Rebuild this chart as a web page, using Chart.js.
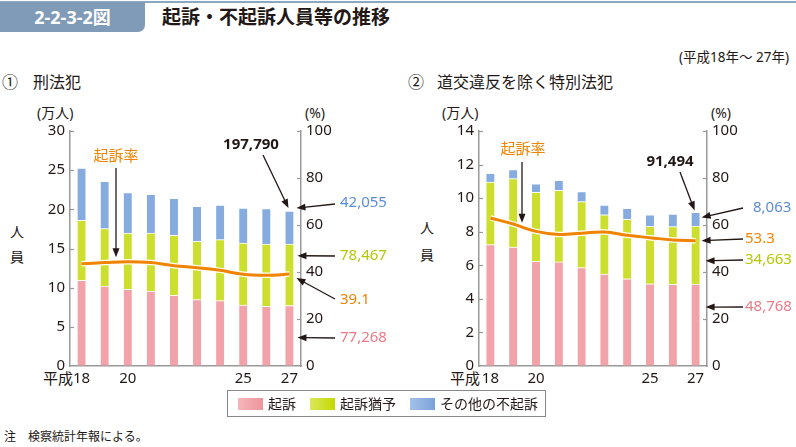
<!DOCTYPE html>
<html>
<head>
<meta charset="utf-8">
<script src="https://cdn.jsdelivr.net/npm/chart.js@4.4.1/dist/chart.umd.min.js"></script>
<style>
  body { margin: 0; width: 796px; height: 447px; position: relative; background: #fff;
         font-family: "Noto Sans", "Noto Sans CJK JP", sans-serif; color: #231815; overflow: hidden; }
  .t { position: absolute; white-space: nowrap; line-height: 1; }
  .wrap { position: absolute; top: 95px; height: 300px; }
  #topline { position: absolute; left: 0; top: 1px; width: 796px; height: 2px; background: #8ea7c0; }
  #badge { position: absolute; left: 0; top: 2px; width: 145px; height: 30px; background: #7f9bb8;
           border-bottom-right-radius: 7px; color: #fff; font-weight: bold; font-size: 18px;
           line-height: 30px; text-align: center; }
  #legend { position: absolute; left: 227px; top: 390px; width: 319px; height: 27px;
            border: 1px solid #888; box-sizing: border-box; }
  .sw { position: absolute; top: 7px; width: 25px; height: 12px; }
  .lt { position: absolute; top: 5px; font-size: 14px; line-height: 16px; }
</style>
</head>
<body>
<div id="topline"></div>
<div id="badge">2-2-3-2図</div>
<div class="t" style="left:162px;top:8px;font-size:19px;font-weight:bold;">起訴・不起訴人員等の推移</div>
<div class="t" style="left:679px;top:51px;font-size:13.5px;">(平成18年～ 27年)</div>

<div class="t" style="left:2px;top:74px;font-size:16px;">①</div>
<div class="t" style="left:33px;top:74px;font-size:16px;">刑法犯</div>
<div class="t" style="left:408px;top:74px;font-size:16px;">②</div>
<div class="t" style="left:437px;top:74px;font-size:16px;">道交違反を除く特別法犯</div>

<div class="t" style="left:37px;top:106px;font-size:14px;">(万人)</div>
<div class="t" style="left:305px;top:106px;font-size:14px;">(%)</div>
<div class="t" style="left:442px;top:106px;font-size:14px;">(万人)</div>
<div class="t" style="left:711px;top:106px;font-size:14px;">(%)</div>

<div class="t" style="left:10px;top:225px;font-size:14px;">人</div>
<div class="t" style="left:10px;top:250px;font-size:14px;">員</div>
<div class="t" style="left:420px;top:221px;font-size:14px;">人</div>
<div class="t" style="left:420px;top:248px;font-size:14px;">員</div>

<div class="t" style="left:43px;top:371px;font-size:15px;">平成</div>
<div class="t" style="left:450px;top:371px;font-size:15px;">平成</div>

<div class="wrap" style="left:0;width:400px;"><canvas id="c1" width="400" height="300"></canvas></div>
<div class="wrap" style="left:400px;width:396px;"><canvas id="c2" width="396" height="300"></canvas></div>

<div id="legend">
  <div class="sw" style="left:10px;background:linear-gradient(90deg,#f6b6bb,#ee939c);"></div>
  <div class="lt" style="left:40px;">起訴</div>
  <div class="sw" style="left:82px;background:linear-gradient(90deg,#dbe85a,#c4d800);"></div>
  <div class="lt" style="left:112px;">起訴猶予</div>
  <div class="sw" style="left:182px;background:linear-gradient(90deg,#a2c0e8,#7aa3db);"></div>
  <div class="lt" style="left:212px;">その他の不起訴</div>
</div>

<div class="t" style="left:4px;top:431px;font-size:12px;">注　検察統計年報による。</div>

<script>
// categories (平成18〜27年)
const years = ['18', '', '20', '', '', '', '', '25', '', '27'];

// ① 刑法犯 (万人)
const kisoA = [10.94, 10.21, 9.79, 9.57, 9.02, 8.47, 8.34, 7.79, 7.62, 7.7268];
const yuyoA = [7.66, 7.32, 7.19, 7.41, 7.66, 7.44, 7.79, 7.91, 7.95, 7.8467];
const sonotaA = [6.68, 6.04, 5.15, 4.93, 4.72, 4.47, 4.42, 4.47, 4.52, 4.2055];
const rateA = [43.5, 44.0, 44.4, 44.0, 42.7, 41.8, 40.7, 39.0, 38.6, 39.1];

// ② 道交違反を除く特別法犯 (万人)
const kisoB = [7.23, 7.09, 6.24, 6.20, 5.86, 5.48, 5.20, 4.90, 4.86, 4.8768];
const yuyoB = [3.73, 4.07, 4.11, 4.26, 3.93, 3.53, 3.54, 3.42, 3.44, 3.4663];
const sonotaB = [0.52, 0.54, 0.51, 0.60, 0.60, 0.58, 0.65, 0.68, 0.75, 0.8063];
const rateB = [63.0, 60.4, 57.3, 56.0, 56.5, 57.0, 55.6, 54.6, 53.6, 53.3];

const PINK = '#f2a3aa', GREEN = '#cddf2e', BLUE = '#86abdf', ORANGE = '#f08300';
const TXT = '#231815';
const tickFont = { family: '"Noto Sans", "Noto Sans CJK JP"', size: 15 };

// callouts for each canvas
const notesById = {
  c1: {
    dxTotal: -1, dyTotal: -3, dxOther: 7, dyOther: -3, dxYuyo: 8, fYuyo: 0.81,
    dxRate: 7, dyRate: 4, dxKiso: 8, fKiso: 0.47,
    items: [
      { text: '起訴率', color: ORANGE, tx: 116, ty: 62, align: 'center', ax: 116, ay: 73, tip: 'label' },
      { text: '197,790', color: TXT, bold: true, tx: 251, ty: 50, align: 'center', ax: 263, ay: 60, tip: 'total' },
      { text: '42,055', color: '#5b8ed6', tx: 340, ty: 108, ax: 335, ay: 109, tip: 'other' },
      { text: '78,467', color: '#b5c900', tx: 340, ty: 161, ax: 335, ay: 161, tip: 'yuyo' },
      { text: '39.1', color: ORANGE, tx: 340, ty: 205, ax: 335, ay: 204, tip: 'rate' },
      { text: '77,268', color: '#ec7a86', tx: 340, ty: 243, ax: 335, ay: 243, tip: 'kiso' }
    ]
  },
  c2: {
    dxTotal: -1, dyTotal: -2, dxOther: 6, dyOther: 5, dxYuyo: 10, fYuyo: 0.4,
    dxRate: 6, dyRate: 0, dxKiso: 10, fKiso: 0.72,
    items: [
      { text: '起訴率', color: ORANGE, tx: 123, ty: 55, align: 'center', ax: 122, ay: 67, tip: 'label' },
      { text: '91,494', color: TXT, bold: true, tx: 270, ty: 67, align: 'center', ax: 280, ay: 77, tip: 'total' },
      { text: '8,063', color: '#5b8ed6', tx: 353, ty: 113, ax: 343, ay: 113, tip: 'other' },
      { text: '53.3', color: ORANGE, tx: 345, ty: 144, ax: 343, ay: 144, tip: 'rate' },
      { text: '34,663', color: '#b5c900', tx: 345, ty: 165, ax: 343, ay: 165, tip: 'yuyo' },
      { text: '48,768', color: '#ec7a86', tx: 345, ty: 212, ax: 343, ay: 212, tip: 'kiso' }
    ]
  }
};

function arrow(ctx, x1, y1, x2, y2) {
  const a = Math.atan2(y2 - y1, x2 - x1);
  const L = 9, W = 3.5;
  ctx.save();
  ctx.strokeStyle = '#231815';
  ctx.fillStyle = '#231815';
  ctx.lineWidth = 1.3;
  ctx.beginPath();
  ctx.moveTo(x1, y1);
  ctx.lineTo(x2 - Math.cos(a) * L * 0.8, y2 - Math.sin(a) * L * 0.8);
  ctx.stroke();
  ctx.beginPath();
  ctx.moveTo(x2, y2);
  ctx.lineTo(x2 - Math.cos(a) * L - Math.sin(a) * W, y2 - Math.sin(a) * L + Math.cos(a) * W);
  ctx.lineTo(x2 - Math.cos(a) * L + Math.sin(a) * W, y2 - Math.sin(a) * L - Math.cos(a) * W);
  ctx.closePath();
  ctx.fill();
  ctx.restore();
}

// inward tick marks + callouts
const extras = {
  id: 'extras',
  afterDraw(chart) {
    const ctx = chart.ctx, area = chart.chartArea;
    const y = chart.scales.y, y1 = chart.scales.y1, x = chart.scales.x;
    ctx.save();
    ctx.strokeStyle = '#999';
    ctx.lineWidth = 1.2;
    y.ticks.forEach(t => {
      if (t.value === 0) return;
      const py = Math.round(y.getPixelForValue(t.value)) + 0.5;
      ctx.beginPath(); ctx.moveTo(area.left, py); ctx.lineTo(area.left + 4, py); ctx.stroke();
    });
    y1.ticks.forEach(t => {
      if (t.value === 0) return;
      const py = Math.round(y1.getPixelForValue(t.value)) + 0.5;
      ctx.beginPath(); ctx.moveTo(area.right, py); ctx.lineTo(area.right - 4, py); ctx.stroke();
    });
    ctx.restore();

    const notes = notesById[chart.canvas.id];
    if (!notes) return;
    const d = chart.data.datasets;
    const last = d[0].data.length - 1;
    const kiso = d[2].data[last], yuyo = d[3].data[last], other = d[4].data[last];
    const rate = d[0].data;
    const xc = x.getPixelForValue(last);
    const tips = {
      total: [xc + notes.dxTotal, y.getPixelForValue(kiso + yuyo + other) + notes.dyTotal],
      other: [xc + notes.dxOther, y.getPixelForValue(kiso + yuyo + other) + notes.dyOther],
      yuyo: [xc + notes.dxYuyo, y.getPixelForValue(kiso + yuyo * notes.fYuyo)],
      rate: [xc + notes.dxRate, y1.getPixelForValue(rate[last]) + notes.dyRate],
      kiso: [xc + notes.dxKiso, y.getPixelForValue(kiso * notes.fKiso)],
      label: [(x.getPixelForValue(1) + x.getPixelForValue(2)) / 2,
              y1.getPixelForValue((rate[1] + rate[2]) / 2) - 5]
    };
    ctx.save();
    ctx.textBaseline = 'middle';
    notes.items.forEach(n => {
      ctx.font = (n.bold ? 'bold ' : '') + '15px "Noto Sans", "Noto Sans CJK JP"';
      ctx.fillStyle = n.color;
      ctx.textAlign = n.align || 'left';
      ctx.fillText(n.text, n.tx, n.ty);
      const tip = tips[n.tip];
      arrow(ctx, n.ax, n.ay, n.tip === 'label' ? n.ax : tip[0], tip[1]);
    });
    ctx.restore();
  }
};

function makeChart(id, kiso, yuyo, sonota, rate, yMax, yStep, leftW, rightW) {
  const fit = w => s => { s.width = w; };
  return new Chart(document.getElementById(id), {
    type: 'bar',
    data: {
      labels: years,
      datasets: [
        { type: 'line', data: rate, yAxisID: 'y1', borderColor: ORANGE, borderWidth: 3,
          tension: 0.4, pointRadius: 0, order: 0 },
        { type: 'line', data: rate, yAxisID: 'y1', borderColor: '#fff', borderWidth: 5.5,
          tension: 0.4, pointRadius: 0, order: 1 },
        { label: '起訴', data: kiso, backgroundColor: PINK, order: 2 },
        { label: '起訴猶予', data: yuyo, backgroundColor: GREEN, order: 2 },
        { label: 'その他の不起訴', data: sonota, backgroundColor: BLUE, order: 2 }
      ].map(ds => ds.type ? ds : Object.assign(ds, {
        barThickness: 8, borderColor: '#fff', borderWidth: { top: 1 }, borderSkipped: 'bottom'
      }))
    },
    options: {
      responsive: false,
      animation: false,
      layout: { padding: { top: 36, left: 0, right: 0, bottom: 0 } },
      plugins: { legend: { display: false }, tooltip: { enabled: false } },
      scales: {
        x: {
          stacked: true,
          grid: { drawOnChartArea: false, drawTicks: false },
          border: { color: '#999', width: 1.5 },
          ticks: { autoSkip: false, maxRotation: 0, padding: 4, font: tickFont, color: TXT },
          afterFit: s => { s.height = 29; }
        },
        y: {
          stacked: true, min: 0, max: yMax,
          grid: { drawOnChartArea: false, drawTicks: false },
          border: { color: '#999', width: 1.5 },
          ticks: { stepSize: yStep, padding: 5, font: tickFont, color: TXT },
          afterFit: fit(leftW)
        },
        y1: {
          position: 'right', min: 0, max: 100, stacked: false,
          grid: { drawOnChartArea: false, drawTicks: false },
          border: { color: '#999', width: 1.5 },
          ticks: { stepSize: 20, padding: 5, font: tickFont, color: TXT },
          afterFit: fit(rightW)
        }
      }
    },
    plugins: [extras]
  });
}

makeChart('c1', kisoA, yuyoA, sonotaA, rateA, 30, 5, 70, 99);
makeChart('c2', kisoB, yuyoB, sonotaB, rateB, 14, 2, 79, 89);
</script>
</body>
</html>
